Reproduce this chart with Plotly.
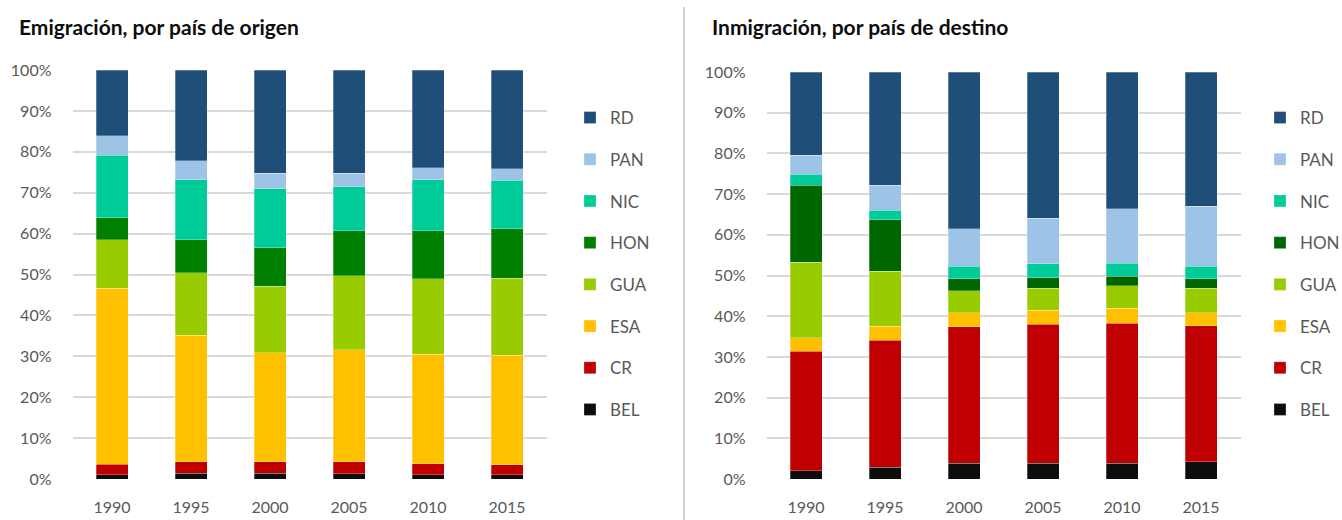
import plotly.graph_objects as go

years = ["1990", "1995", "2000", "2005", "2010", "2015"]
countries = ["BEL", "CR", "ESA", "GUA", "HON", "NIC", "PAN", "RD"]

# Emigración, por país de origen (% share)
emi_BEL = [1.1, 1.4, 1.4, 1.3, 1.1, 1.1]
emi_CR = [2.5, 2.8, 2.8, 2.9, 2.6, 2.4]
emi_ESA = [43.0, 31.0, 26.7, 27.4, 26.8, 26.8]
emi_GUA = [11.9, 15.2, 16.2, 18.1, 18.5, 18.8]
emi_HON = [5.4, 8.1, 9.5, 11.0, 11.7, 12.1]
emi_NIC = [15.3, 14.7, 14.4, 10.8, 12.5, 11.9]
emi_PAN = [4.7, 4.6, 3.8, 3.3, 2.9, 2.7]
emi_RD = [16.1, 22.2, 25.2, 25.2, 23.9, 24.2]

# Inmigración, por país de destino (% share)
inm_BEL = [2.0, 2.9, 3.9, 3.9, 3.9, 4.3]
inm_CR = [29.4, 31.2, 33.5, 34.1, 34.4, 33.3]
inm_ESA = [3.3, 3.4, 3.5, 3.5, 3.6, 3.3]
inm_GUA = [18.6, 13.5, 5.3, 5.4, 5.6, 6.0]
inm_HON = [18.9, 12.7, 3.0, 2.6, 2.3, 2.3]
inm_NIC = [2.7, 2.3, 3.1, 3.4, 3.2, 3.1]
inm_PAN = [4.6, 6.2, 9.2, 11.2, 13.4, 14.7]
inm_RD = [20.5, 27.8, 38.5, 35.9, 33.6, 33.0]

emi = [emi_BEL, emi_CR, emi_ESA, emi_GUA, emi_HON, emi_NIC, emi_PAN, emi_RD]
inm = [inm_BEL, inm_CR, inm_ESA, inm_GUA, inm_HON, inm_NIC, inm_PAN, inm_RD]

colors_left = ["#0D0D0D", "#C00000", "#FFC000", "#99CC00", "#008000", "#00CC99", "#9DC3E6", "#1F4E79"]
colors_right = ["#0D0D0D", "#C00000", "#FFC000", "#99CC00", "#006600", "#00CC99", "#9DC3E6", "#1F4E79"]

W, H = 1342, 520
FONT = "Lato"
GRAY = "#595959"

fig = go.Figure()
n = len(countries)
for i, (name, vals, col) in enumerate(zip(countries, emi, colors_left)):
    fig.add_trace(go.Bar(x=years, y=vals, name=name, marker_color=col,
                         marker_line=dict(width=0.6, color="rgba(255,255,255,0.45)"),
                         xaxis="x", yaxis="y", legend="legend", legendgroup="L" + name,
                         legendrank=n - i))
for i, (name, vals, col) in enumerate(zip(countries, inm, colors_right)):
    fig.add_trace(go.Bar(x=years, y=vals, name=name, marker_color=col,
                         marker_line=dict(width=0.6, color="rgba(255,255,255,0.45)"),
                         xaxis="x2", yaxis="y2", legend="legend2", legendgroup="R" + name,
                         legendrank=n - i))

yax = dict(range=[0, 100], dtick=10, ticksuffix="%", showgrid=True, gridcolor="#D9D9D9",
           gridwidth=1.5, zeroline=False, showline=False, ticklabelstandoff=20,
           tickfont=dict(family=FONT, size=16, color=GRAY), fixedrange=True)
xax = dict(showgrid=False, showline=False, zeroline=False, ticklabelstandoff=17,
           tickfont=dict(family=FONT, size=16, color=GRAY), fixedrange=True)

leg = dict(font=dict(family=FONT, size=17, color=GRAY), traceorder="grouped",
           tracegroupgap=16.6, yanchor="top", xanchor="left", bgcolor="rgba(0,0,0,0)")

fig.update_layout(
    width=W, height=H, margin=dict(l=0, r=0, t=0, b=0, autoexpand=False),
    paper_bgcolor="white", plot_bgcolor="white",
    barmode="stack", bargap=0.595,
    xaxis=dict(domain=[72.5 / W, 546.5 / W], anchor="y", **xax),
    yaxis=dict(domain=[41 / H, 450 / H], anchor="x", **yax),
    xaxis2=dict(domain=[766.5 / W, 1240.5 / W], anchor="y2", **xax),
    yaxis2=dict(domain=[41 / H, 448 / H], anchor="x2", **yax),
    legend=dict(x=570 / W, y=1 - 100 / H, **leg),
    legend2=dict(x=1260 / W, y=1 - 100 / H, **leg),
    showlegend=True,
    annotations=[
        dict(text="<b>Emigración, por país de origen</b>", x=17 / W, y=1 - 26 / H,
             xref="paper", yref="paper", xanchor="left", yanchor="middle", showarrow=False,
             font=dict(family=FONT, size=21, color="#0D0D0D")),
        dict(text="<b>Inmigración, por país de destino</b>", x=710 / W, y=1 - 26 / H,
             xref="paper", yref="paper", xanchor="left", yanchor="middle", showarrow=False,
             font=dict(family=FONT, size=21, color="#0D0D0D")),
    ],
    shapes=[dict(type="line", xref="paper", yref="paper", x0=684 / W, x1=684 / W,
                 y0=0, y1=1 - 7 / H, line=dict(color="#A6A6A6", width=1))],
)

fig.write_html("out.html", config={"displayModeBar": False},
               post_script="document.body.style.margin='0';")
